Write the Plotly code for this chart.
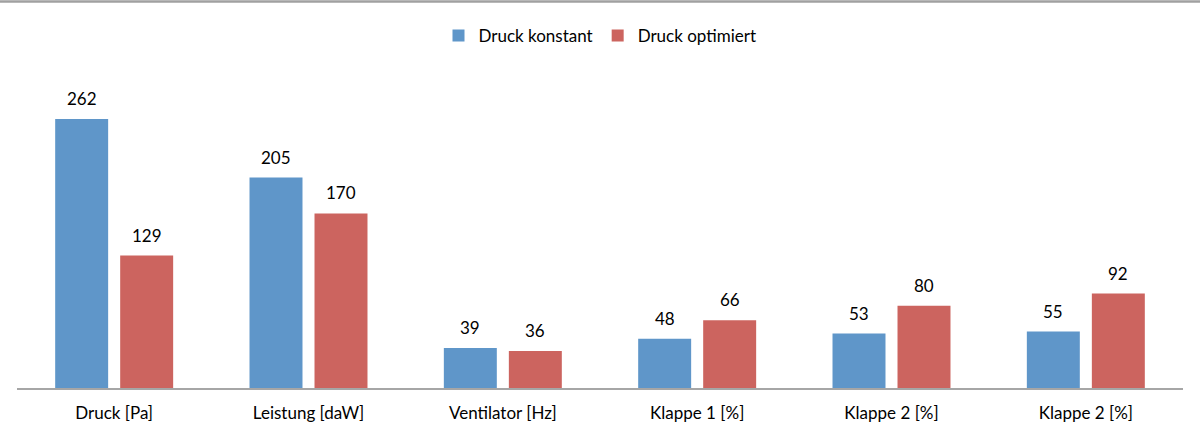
import plotly.graph_objects as go

categories = ["Druck [Pa]", "Leistung [daW]", "Ventilator [Hz]", "Klappe 1 [%]", "Klappe 2 [%]", "Klappe 2 [%]"]
druck_konstant = [262, 205, 39, 48, 53, 55]
druck_optimiert = [129, 170, 36, 66, 80, 92]

x = list(range(len(categories)))
W, H = 1200, 435
ml, mr, mt, mb = 17, 17, 80, 47
pw = W - ml - mr
ph = H - mt - mb

font = dict(family="Lato, 'Open Sans', sans-serif", size=17, color="#000000")

fig = go.Figure()
fig.add_bar(x=x, y=druck_konstant, name="Druck konstant", marker_color="#5f96c9",
            marker_line_width=0, cliponaxis=False)
fig.add_bar(x=x, y=druck_optimiert, name="Druck optimiert", marker_color="#cc645f",
            marker_line_width=0, cliponaxis=False)

slot = pw / len(categories) * (1 - 0.331) / 2
for series, shift in ((druck_konstant, -slot / 2), (druck_optimiert, slot / 2)):
    for xi, v in zip(x, series):
        fig.add_annotation(x=xi, y=v, xref="x", yref="y", text=str(v), showarrow=False,
                           xshift=shift, yshift=8, yanchor="bottom", font=font)

fig.update_layout(
    width=W, height=H,
    margin=dict(l=ml, r=mr, t=mt, b=mb, autoexpand=False),
    paper_bgcolor="white", plot_bgcolor="white",
    barmode="group", bargap=0.331, bargroupgap=0.185,
    font=font,
    legend=dict(orientation="h", x=0.5, xanchor="center", y=1 + 44 / ph, yanchor="middle",
                font=dict(size=17), itemwidth=30, traceorder="normal"),
    xaxis=dict(tickmode="array", tickvals=x, ticktext=categories, range=[-0.5, 5.5],
               showline=True, linecolor="#a6a6a6", linewidth=2, ticks="",
               showgrid=False, zeroline=False, tickfont=font, ticklabelstandoff=9,
               automargin=False),
    yaxis=dict(range=[0, 300], visible=False, showgrid=False, zeroline=False, automargin=False),
)
fig.add_shape(type="line", xref="paper", yref="paper",
              x0=-ml / pw, x1=1 + mr / pw, y0=1 + (mt - 1.5) / ph, y1=1 + (mt - 1.5) / ph,
              line=dict(color="#a0a0a0", width=2.5))

fig.write_html("out.html", config={"displayModeBar": False},
               post_script="document.body.style.margin='0';document.body.style.overflow='hidden';")
